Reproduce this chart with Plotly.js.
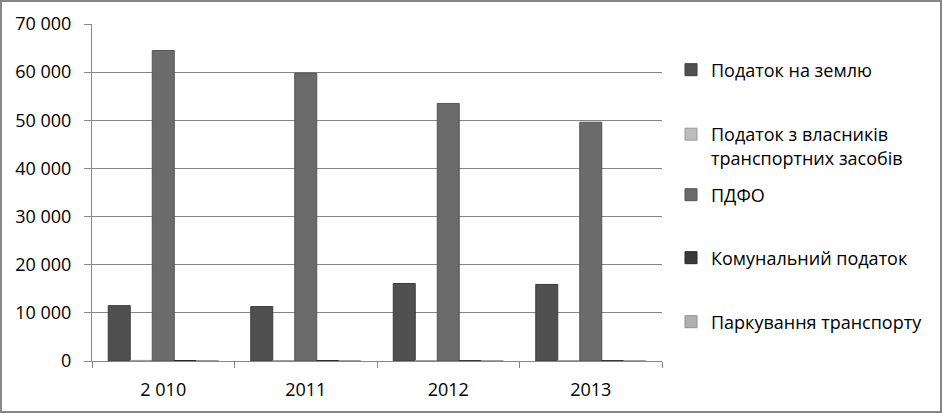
<!DOCTYPE html>
<html>
<head>
<meta charset="utf-8">
<script src="https://cdn.plot.ly/plotly-3.0.1.min.js"></script>
<style>
  html, body { margin: 0; padding: 0; background: #fff; }
  #wrap { position: relative; width: 943px; height: 414px; }
  #chart { position: absolute; left: 0; top: 0; width: 943px; height: 414px; }
  #frame { position: absolute; left: 0; top: 0; width: 942px; height: 413px; box-sizing: border-box; border: 2px solid #878787; pointer-events: none; }
</style>
</head>
<body>
<div id="wrap"><div id="chart"></div><div id="frame"></div></div>
<script>
const years = ["2 010", "2011", "2012", "2013"];
const seriesNames = [
  "Податок на землю",
  "Податок з власників<br>транспортних засобів",
  "ПДФО",
  "Комунальний податок",
  "Паркування транспорту"
];
const landTax = [11500, 11300, 16100, 15900];
const vehicleTax = [120, 100, 80, 80];
const pdfo = [64500, 59800, 53500, 49600];
const communalTax = [100, 80, 60, 60];
const parking = [60, 50, 40, 40];
const yTicks = [0, 10000, 20000, 30000, 40000, 50000, 60000, 70000];

const values = [landTax, vehicleTax, pdfo, communalTax, parking];
const fills = ["#505050", "#bdbdbd", "#6b6b6b", "#3a3a3a", "#b0b0b0"];
const lines = ["#3c3c3c", "#9a9a9a", "#555555", "#262626", "#909090"];
const legendIds = ["legend", "legend2", "legend3", "legend4", "legend5"];

const FONT = "'Open Sans', 'Noto Sans', sans-serif";
const FS = 18;

const traces = values.map((v, i) => ({
  type: "bar",
  name: seriesNames[i],
  x: years,
  y: v,
  marker: { color: fills[i], line: { color: lines[i], width: 1 } },
  legend: legendIds[i],
  hoverinfo: "x+y+name"
}));

// plot area: x 92..662, y 24..361 (page px)
const L = 92, R = 662, T = 24, B = 361;
const px = x => (x - L) / (R - L);
const py = y => (B - y) / (B - T);

const legFont = { family: FONT, size: FS, color: "#000" };
function leg(yc, anchor) {
  return {
    x: px(671), xanchor: "left", xref: "paper",
    y: py(yc), yanchor: anchor || "middle", yref: "paper",
    font: legFont, bgcolor: "rgba(0,0,0,0)", borderwidth: 0,
    valign: "top", itemclick: false, itemdoubleclick: false
  };
}

const layout = {
  width: 943, height: 414,
  margin: { l: L, r: 943 - R, t: T, b: 414 - B, pad: 0 },
  paper_bgcolor: "#ffffff",
  plot_bgcolor: "#ffffff",
  separators: ", ",
  font: { family: FONT, size: FS, color: "#000" },
  barmode: "group",
  bargap: 0.228,
  bargroupgap: 0,
  showlegend: true,
  xaxis: {
    type: "category",
    tickson: "boundaries",
    ticks: "outside", ticklen: 6, tickcolor: "#868686", tickwidth: 1,
    showline: true, linecolor: "#868686", linewidth: 1,
    showgrid: false, zeroline: false,
    tickfont: { family: FONT, size: FS, color: "#000" },
    ticklabelstandoff: 12
  },
  yaxis: {
    range: [0, 70000],
    tickvals: yTicks,
    tickformat: ",d",
    ticks: "outside", ticklen: 7, tickcolor: "#868686", tickwidth: 1,
    showline: true, linecolor: "#868686", linewidth: 1,
    showgrid: true, gridcolor: "#868686", gridwidth: 1,
    zeroline: false,
    tickfont: { family: FONT, size: FS, color: "#000" },
    ticklabelstandoff: 9
  },
  legend: leg(70),
  legend2: leg(116, "top"),
  legend3: leg(195),
  legend4: leg(258),
  legend5: leg(322)
};

Plotly.newPlot("chart", traces, layout, { displayModeBar: false, staticPlot: true });
</script>
</body>
</html>
